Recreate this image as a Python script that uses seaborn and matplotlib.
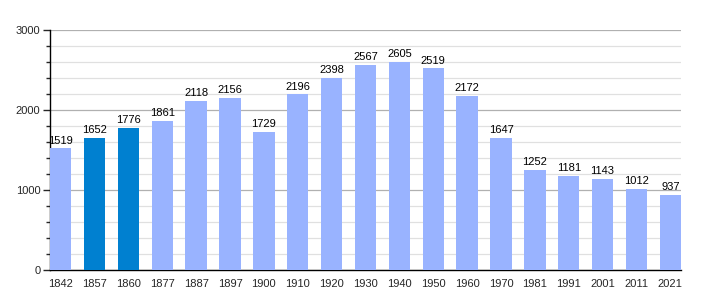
import matplotlib
matplotlib.use("Agg")
import matplotlib.pyplot as plt
import seaborn as sns
import pandas as pd
from matplotlib.ticker import MultipleLocator

years = ["1842", "1857", "1860", "1877", "1887", "1897", "1900", "1910", "1920", "1930",
         "1940", "1950", "1960", "1970", "1981", "1991", "2001", "2011", "2021"]
population = [1519, 1652, 1776, 1861, 2118, 2156, 1729, 2196, 2398, 2567,
              2605, 2519, 2172, 1647, 1252, 1181, 1143, 1012, 937]
highlight = [False, True, True] + [False] * 16

df = pd.DataFrame({"year": years, "pop": population,
                   "kind": ["hi" if h else "lo" for h in highlight]})

sns.set_style("white")
plt.rcParams["font.family"] = ["Liberation Sans", "DejaVu Sans"]

fig = plt.figure(figsize=(7.1, 3.0), dpi=100)
ax = fig.add_axes([50 / 710, 30 / 300, 631 / 710, 240 / 300])

sns.barplot(data=df, x="year", y="pop", hue="kind",
            palette={"lo": "#99b3ff", "hi": "#0080d0"}, saturation=1,
            width=0.63, dodge=False, legend=False, ax=ax, zorder=3,
            linewidth=0, edgecolor="none")

for i, v in enumerate(population):
    ax.text(i, v + 35, str(v), ha="center", va="bottom", fontsize=8, color="#000000", zorder=4)

ax.set_ylim(0, 3000)
ax.set_xlim(-0.315, len(years) - 1 + 0.315)
ax.yaxis.set_major_locator(MultipleLocator(1000))
ax.yaxis.set_minor_locator(MultipleLocator(200))
ax.grid(axis="y", which="major", color="#b0b0b0", linewidth=0.9, zorder=0)
ax.grid(axis="y", which="minor", color="#e0e0e0", linewidth=0.9, zorder=0)
ax.set_axisbelow(True)

for s in ["top", "right"]:
    ax.spines[s].set_visible(False)
ax.spines["left"].set_color("black")
ax.spines["bottom"].set_color("black")
ax.spines["left"].set_linewidth(1)
ax.spines["bottom"].set_linewidth(1)

ax.tick_params(axis="y", which="major", left=True, length=5, width=1, labelsize=8, pad=2)
ax.tick_params(axis="y", which="minor", left=True, length=3, width=1)
ax.tick_params(axis="x", bottom=False, labelsize=8, pad=3)
ax.set_xlabel("")
ax.set_ylabel("")

fig.savefig("out.png", dpi=100)
